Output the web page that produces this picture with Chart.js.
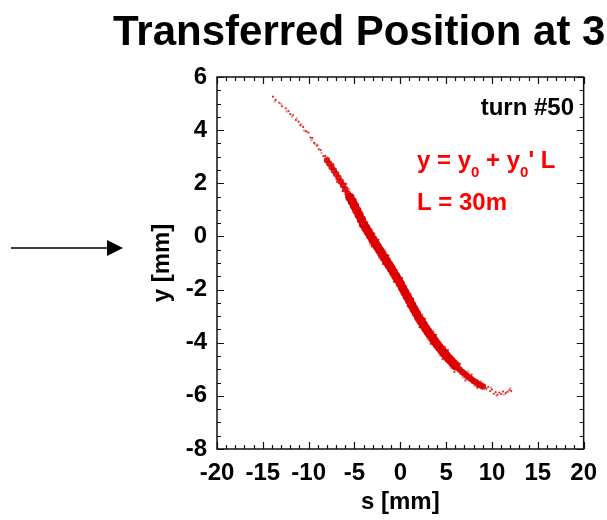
<!DOCTYPE html>
<html>
<head>
<meta charset="utf-8">
<script src="https://cdn.jsdelivr.net/npm/chart.js@4.4.0/dist/chart.umd.min.js"></script>
<style>
  html, body { margin: 0; padding: 0; background: #fff; }
  #wrap { width: 607px; height: 520px; }
</style>
</head>
<body>
<div id="wrap"><canvas id="chartTransfer" width="607" height="520"></canvas></div>
<script>
// particle positions at turn #50 (s, y in mm)
var sCore = [-5.50,-5.25,-5.00,-4.75,-4.50,-4.25,-4.00,-3.75,-3.50,-3.25,-3.00,-2.75,-2.50,-2.25,-2.00,-1.75,-1.50,-1.25,-1.00,-0.75,-0.50,-0.25,0.00,0.25,0.50,0.75,1.00,1.25,1.50,1.75,2.00,2.25,2.50,2.75,3.00,3.25,3.50,3.75,4.00,4.25,4.50,4.75,5.00,5.25,5.50,5.75,6.00];
var yCore = [1.47,1.31,1.15,0.98,0.81,0.63,0.45,0.31,0.17,0.03,-0.12,-0.25,-0.39,-0.52,-0.66,-0.80,-0.93,-1.07,-1.20,-1.34,-1.49,-1.63,-1.78,-1.94,-2.10,-2.26,-2.42,-2.58,-2.74,-2.89,-3.05,-3.18,-3.32,-3.45,-3.58,-3.70,-3.82,-3.94,-4.06,-4.17,-4.27,-4.38,-4.48,-4.58,-4.67,-4.77,-4.86];

var sThin = [-8.00,-7.75,-7.50,-7.25,-7.00,-6.75,-6.50,-6.25,-6.00,-5.75,6.25,6.50,6.75,7.00,7.25,7.50,7.75,8.00,8.25,8.50,8.75,9.00];
var yThin = [2.87,2.74,2.61,2.48,2.35,2.21,2.07,1.93,1.78,1.62,-4.94,-5.02,-5.10,-5.17,-5.24,-5.31,-5.37,-5.44,-5.49,-5.55,-5.60,-5.65];

var sDots = [-13.9,-13.6,-13.2,-12.9,-12.5,-12.2,-12.0,-11.7,-11.4,-11.1,-10.9,-10.6,-10.3,-10.1,-9.8,-9.6,-9.4,-9.1,-8.9,-8.7,-8.4,-8.2,-7.3,-6.9,-6.3,-5.9,-4.9,-4.4,-3.6,-3.1,-2.4,-1.9,-1.3,-0.7,0.2,0.8,1.4,2.1,2.7,3.3,3.9,4.6,5.2,5.9,6.5,7.1,7.8,8.4,9.2,9.4,9.6,9.8,10.0,10.2,10.4,10.6,10.8,11.0,11.2,11.5,11.7,11.9,12.1];
var yDots = [5.26,5.14,5.03,4.90,4.82,4.72,4.60,4.57,4.38,4.32,4.18,4.12,3.96,3.92,3.72,3.70,3.52,3.42,3.28,3.25,3.02,3.03,2.72,2.05,1.70,1.98,1.40,0.40,0.52,-0.38,-0.12,-1.04,-0.72,-1.70,-1.58,-2.62,-2.35,-3.42,-3.10,-4.04,-3.70,-4.62,-4.28,-5.10,-4.80,-5.42,-5.20,-5.70,-5.60,-5.72,-5.66,-5.82,-5.76,-5.92,-5.86,-5.96,-5.88,-5.93,-5.84,-5.90,-5.85,-5.78,-5.82];

var sFaint = [-13.7,-13.0,-12.4,-11.8,-11.3,-10.8,-10.5,-10.0,-9.7,-9.3,-9.0,-8.6,-8.0,-7.6,-7.1,-6.6,-6.1,-5.6,-5.1,-4.6,-4.1,-3.8,-3.3,-2.8,-2.3,-1.7,-1.0,-0.4,0.5,1.1,1.8,2.4,3.0,3.6,4.3,4.9,5.5,6.2,6.8,7.4,8.1,8.8,9.3,9.9,10.5,11.3,12.0];
var yFaint = [5.08,4.98,4.70,4.50,4.44,4.22,3.98,3.90,3.62,3.48,3.45,3.14,2.98,2.80,2.30,2.25,1.70,1.78,0.95,1.05,0.25,0.60,-0.30,0.10,-0.80,-0.50,-1.50,-1.30,-2.40,-2.15,-3.20,-2.95,-3.85,-3.55,-4.48,-4.15,-4.95,-4.70,-5.32,-5.08,-5.62,-5.45,-5.76,-5.70,-6.00,-5.95,-5.72];

var xTicks = [-20, -15, -10, -5, 0, 5, 10, 15, 20];
var yTicks = [-8, -6, -4, -2, 0, 2, 4, 6];

function pts(s, y) {
    return s.map(function (v, i) { return { x: v, y: y[i] }; });
}

var FONT = "'Liberation Sans', Arial, Helvetica, sans-serif";

var framePlugin = {
    id: 'frame',
    afterDraw: function (chart) {
        var ctx = chart.ctx;
        var a = chart.chartArea;
        var xs = chart.scales.x, ys = chart.scales.y;
        ctx.save();
        ctx.strokeStyle = '#111';
        ctx.lineWidth = 1.5;
        ctx.strokeRect(a.left, a.top, a.right - a.left, a.bottom - a.top);

        ctx.lineWidth = 1.2;
        ctx.beginPath();
        // minor ticks every 1 on s, every 0.5 on y; majors longer
        for (var v = -20; v <= 20; v += 1) {
            var px = Math.round(xs.getPixelForValue(v)) + 0.5;
            var len = (v % 5 === 0) ? 7 : 4;
            ctx.moveTo(px, a.bottom); ctx.lineTo(px, a.bottom - len);
            ctx.moveTo(px, a.top); ctx.lineTo(px, a.top + len);
        }
        for (var w = -8; w <= 6; w += 0.5) {
            var py = Math.round(ys.getPixelForValue(w)) + 0.5;
            var len2 = (w % 2 === 0) ? 7 : 4;
            ctx.moveTo(a.left, py); ctx.lineTo(a.left + len2, py);
            ctx.moveTo(a.right, py); ctx.lineTo(a.right - len2, py);
        }
        ctx.stroke();

        // title (runs off the right edge as in the original)
        ctx.fillStyle = '#000';
        ctx.font = 'bold 42px ' + FONT;
        ctx.textAlign = 'left';
        ctx.textBaseline = 'alphabetic';
        ctx.fillText('Transferred Position at 30m', 113, 45);

        // axis titles
        ctx.font = 'bold 24px ' + FONT;
        ctx.textAlign = 'center';
        ctx.fillText('s [mm]', (a.left + a.right) / 2, 509);
        ctx.save();
        ctx.translate(169, (a.top + a.bottom) / 2);
        ctx.rotate(-Math.PI / 2);
        ctx.fillText('y [mm]', 0, 0);
        ctx.restore();

        // annotations
        ctx.font = 'bold 24px ' + FONT;
        ctx.textAlign = 'right';
        ctx.fillText('turn #50', 574, 115);

        ctx.fillStyle = '#ff0000';
        ctx.textAlign = 'left';
        var x0 = 417, base = 168;
        var big = 'bold 24px ' + FONT, small = 'bold 15px ' + FONT;
        var parts = [['y = y', big, 0], ['0', small, 9], [' + y', big, 0], ['0', small, 9], ["' L", big, 0]];
        parts.forEach(function (p) {
            ctx.font = p[1];
            ctx.fillText(p[0], x0, base + p[2]);
            x0 += ctx.measureText(p[0]).width;
        });
        ctx.font = big;
        ctx.fillText('L = 30m', 417, 210);

        // arrow in the left margin
        ctx.strokeStyle = '#000';
        ctx.fillStyle = '#000';
        ctx.lineWidth = 1.5;
        ctx.beginPath();
        ctx.moveTo(11, 248); ctx.lineTo(110, 248);
        ctx.stroke();
        ctx.beginPath();
        ctx.moveTo(123, 248); ctx.lineTo(107, 240); ctx.lineTo(107, 256);
        ctx.closePath();
        ctx.fill();
        ctx.restore();
    }
};

const ctx = document.getElementById('chartTransfer').getContext('2d');
const myChart = new Chart(ctx, {
    type: 'scatter',
    data: {
        datasets: [{
            label: 'faint',
            data: pts(sFaint, yFaint),
            backgroundColor: 'rgba(235, 40, 40, 0.45)',
            borderWidth: 0,
            pointRadius: 1.3
        }, {
            label: 'thin',
            data: pts(sThin, yThin),
            backgroundColor: 'rgba(220, 0, 0, 0.9)',
            borderWidth: 0,
            pointRadius: 3.2
        }, {
            label: 'core',
            data: pts(sCore, yCore),
            backgroundColor: 'rgb(222, 0, 0)',
            borderWidth: 0,
            pointRadius: 4.7
        }, {
            label: 'dots',
            data: pts(sDots, yDots),
            backgroundColor: 'rgba(220, 0, 0, 0.85)',
            borderWidth: 0,
            pointRadius: 1.1
        }]
    },
    options: {
        responsive: false,
        animation: false,
        layout: { padding: { left: 140, top: 77, right: 18, bottom: 0 } },
        plugins: {
            legend: { display: false },
            tooltip: { enabled: false }
        },
        scales: {
            x: {
                type: 'linear',
                min: -20, max: 20,
                afterFit: function (s) { s.height = 71; },
                afterBuildTicks: function (s) { s.ticks = xTicks.map(function (v) { return { value: v }; }); },
                grid: { display: false, drawTicks: false },
                border: { display: false },
                ticks: { color: '#000', padding: 10, maxRotation: 0, font: { family: FONT, size: 24, weight: 'bold' } }
            },
            y: {
                type: 'linear',
                min: -8, max: 6,
                afterFit: function (s) { s.width = 77; },
                afterBuildTicks: function (s) { s.ticks = yTicks.map(function (v) { return { value: v }; }); },
                grid: { display: false, drawTicks: false },
                border: { display: false },
                ticks: { color: '#000', padding: 10, font: { family: FONT, size: 24, weight: 'bold' } }
            }
        }
    },
    plugins: [framePlugin]
});
</script>
</body>
</html>
